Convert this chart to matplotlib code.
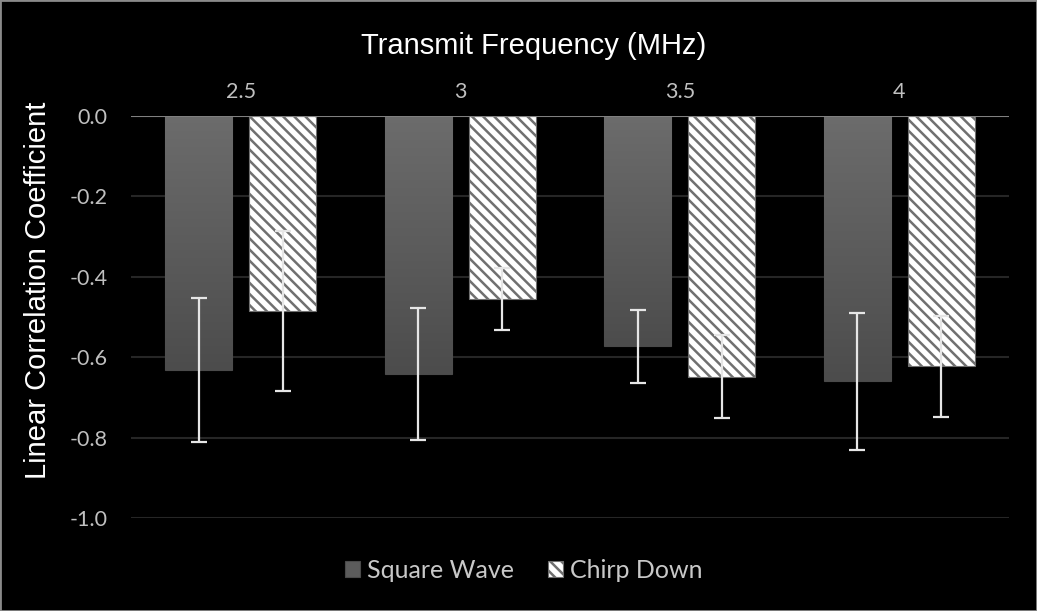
import numpy as np
import matplotlib
matplotlib.use("Agg")
import matplotlib.pyplot as plt
from matplotlib.colors import LinearSegmentedColormap
from matplotlib.ticker import FuncFormatter

# data
freqs = ["2.5", "3", "3.5", "4"]
square_wave = [-0.632, -0.642, -0.573, -0.660]
square_err = [0.180, 0.164, 0.090, 0.170]
chirp_down = [-0.485, -0.454, -0.648, -0.623]
chirp_err = [0.200, 0.077, 0.103, 0.125]

plt.rcParams["hatch.linewidth"] = 1.8

fig = plt.figure(figsize=(10.37, 6.11), dpi=100, facecolor="black")
ax = fig.add_axes([0.1263, 0.1522, 0.8467, 0.6578])
ax.set_facecolor("black")

x = np.arange(len(freqs))
w = 0.306
off = 0.192

sq = ax.bar(x - off, square_wave, w, color="#5c5c5c", edgecolor="#4a4a4a",
            linewidth=0.8, zorder=2, label="Square Wave")
ch = ax.bar(x + off, chirp_down, w, color="white", edgecolor="#707070",
            linewidth=0.8, hatch="\\\\\\", zorder=2, label="Chirp Down")

# vertical gradient on the square wave bars
cmap = LinearSegmentedColormap.from_list("g", ["#4c4c4c", "#6c6c6c"])
grad = np.linspace(0, 1, 256).reshape(-1, 1)
for b in sq:
    x0, y0 = b.get_x(), b.get_y()
    im = ax.imshow(grad, extent=[x0, x0 + b.get_width(), y0 + b.get_height(), y0],
                   aspect="auto", cmap=cmap, origin="lower", zorder=2.5)
    im.set_clip_path(b)

ax.errorbar(x - off, square_wave, yerr=square_err, fmt="none", ecolor="#e6e6e6",
            elinewidth=1.6, capsize=6, capthick=1.6, zorder=4)
ax.errorbar(x + off, chirp_down, yerr=chirp_err, fmt="none", ecolor="#e6e6e6",
            elinewidth=1.6, capsize=6, capthick=1.6, zorder=4)

ax.set_xlim(-0.5, len(freqs) - 0.5)
ax.set_ylim(-1.0, 0.0)
ax.set_yticks(np.arange(-1.0, 0.01, 0.2))
ax.yaxis.set_major_formatter(FuncFormatter(lambda v, p: "%.1f" % (0.0 if abs(v) < 1e-9 else v)))
ax.grid(axis="y", color="#262626", linewidth=1.5, zorder=0)
ax.set_axisbelow(True)
ax.axhline(0, color="#808080", linewidth=1.5, zorder=3)

ax.set_xticks(x)
ax.set_xticklabels(freqs)
ax.xaxis.tick_top()
ax.tick_params(axis="x", length=0, pad=10, labelsize=15.5, labelcolor="#c0c0c0")
ax.tick_params(axis="y", length=0, pad=17, labelsize=15.5, labelcolor="#c0c0c0")
for lab in ax.get_xticklabels() + ax.get_yticklabels():
    lab.set_family("Lato")
for s in ax.spines.values():
    s.set_visible(False)

fig.text(0.515, 0.925, "Transmit Frequency (MHz)", ha="center", va="center",
         color="white", fontsize=21, family="Liberation Sans")
fig.text(0.037, 0.525, "Linear Correlation Coefficient", ha="center", va="center",
         rotation=90, color="white", fontsize=21, family="Liberation Sans")

leg = fig.legend(handles=[sq, ch], loc="center", bbox_to_anchor=(0.505, 0.066),
                 ncol=2, frameon=False, handlelength=0.6,
                 handleheight=0.6, handletextpad=0.3, columnspacing=1.35,
                 prop={"family": "Lato", "size": 18})
for t in leg.get_texts():
    t.set_color("#c8c8c8")

# thin frame around the picture
fig.patches.append(plt.Rectangle((0, 0), 1, 1, transform=fig.transFigure,
                                 fill=False, edgecolor="#8a8a8a", linewidth=2))

fig.savefig("out.png", dpi=100, facecolor="black")
